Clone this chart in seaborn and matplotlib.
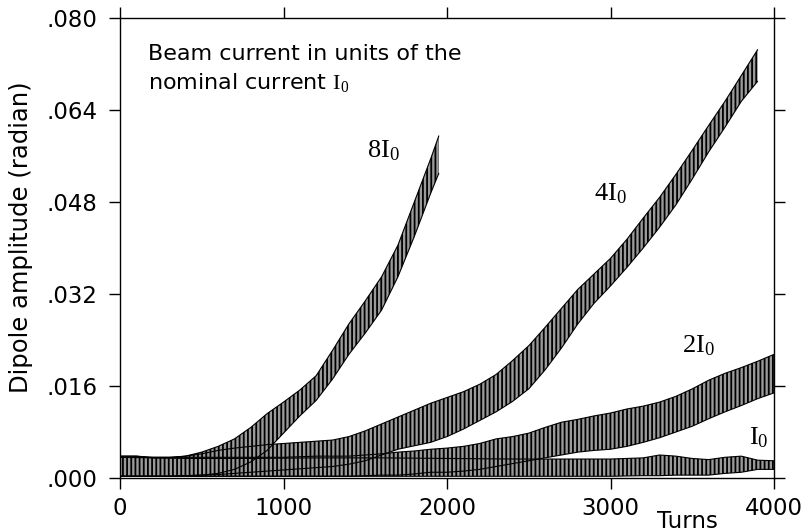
import numpy as np
import pandas as pd
import seaborn as sns
import matplotlib
matplotlib.use("Agg")
import matplotlib.pyplot as plt

# ---------------- data (envelopes of the oscillating signals) -------------
turns_8 = [0, 100, 200, 300, 400, 500, 600, 700, 800, 900, 1000, 1100, 1200, 1300,
           1400, 1500, 1600, 1700, 1800, 1900, 1950]
lo_8 = [.0003, .0003, .0003, .0003, .0004, .0005, .0008, .0015, .0028, .0048, .0078,
        .0108, .0135, .0172, .0215, .0252, .0292, .0350, .0420, .0495, .0530]
hi_8 = [.0038, .0038, .0035, .0035, .0038, .0045, .0055, .0068, .0088, .0112, .0132,
        .0153, .0178, .0222, .0268, .0308, .0350, .0405, .0480, .0555, .0595]

turns_4 = [0, 100, 200, 300, 400, 500, 600, 700, 800, 900, 1000, 1100, 1200, 1300,
           1400, 1500, 1600, 1700, 1800, 1900, 2000, 2100, 2200, 2300, 2400, 2500,
           2600, 2700, 2800, 2900, 3000, 3100, 3200, 3300, 3400, 3500, 3600, 3700,
           3800, 3900]
lo_4 = [.0003, .0003, .0003, .0003, .0004, .0005, .0006, .0008, .0010, .0012, .0014,
        .0016, .0018, .0020, .0024, .0030, .0040, .0050, .0056, .0062, .0072, .0085,
        .0100, .0115, .0133, .0155, .0188, .0226, .0268, .0304, .0334, .0366, .0400,
        .0436, .0475, .0520, .0567, .0610, .0655, .0690]
hi_4 = [.0038, .0038, .0036, .0036, .0038, .0042, .0048, .0052, .0055, .0058, .0060,
        .0062, .0064, .0066, .0072, .0082, .0094, .0106, .0118, .0130, .0140, .0150,
        .0163, .0180, .0204, .0230, .0262, .0295, .0328, .0355, .0382, .0415, .0452,
        .0488, .0528, .0570, .0613, .0655, .0700, .0745]

turns_2 = [0, 200, 400, 600, 800, 1000, 1200, 1400, 1500, 1600, 1700, 1800, 1900,
           2000, 2100, 2200, 2300, 2400, 2500, 2600, 2700, 2800, 2900, 3000, 3100,
           3200, 3300, 3400, 3500, 3600, 3700, 3800, 3900, 4000]
lo_2 = [.0003, .0003, .0003, .0003, .0003, .0003, .0003, .0003, .0004, .0005, .0005,
        .0007, .0010, .0010, .0012, .0015, .0020, .0025, .0030, .0035, .0040, .0045,
        .0048, .0050, .0055, .0062, .0070, .0080, .0090, .0103, .0115, .0126, .0138,
        .0148]
hi_2 = [.0036, .0036, .0036, .0036, .0036, .0036, .0038, .0038, .0040, .0042, .0045,
        .0047, .0050, .0052, .0055, .0060, .0068, .0072, .0078, .0088, .0097, .0102,
        .0108, .0113, .0120, .0125, .0132, .0142, .0155, .0170, .0182, .0192, .0203,
        .0215]

turns_1 = [0, 400, 800, 1200, 1600, 2000, 2400, 2800, 3000, 3200, 3300, 3400, 3500,
           3600, 3700, 3800, 3900, 4000]
lo_1 = [.0003, .0003, .0003, .0003, .0003, .0003, .0003, .0003, .0003, .0004, .0004,
        .0005, .0005, .0005, .0008, .0010, .0015, .0015]
hi_1 = [.0036, .0034, .0034, .0035, .0035, .0034, .0033, .0033, .0033, .0035, .0040,
        .0038, .0034, .0032, .0036, .0038, .0031, .0030]

series_names = ["8I", "4I", "2I", "I"]
label_texts = [r"$8\mathrm{I}_0$", r"$4\mathrm{I}_0$", r"$2\mathrm{I}_0$", r"$\mathrm{I}_0$"]
label_turns = [1510, 2900, 3440, 3850]
label_vals = [.0557, .0482, .0218, .0058]

yticks = [0.0, 0.016, 0.032, 0.048, 0.064, 0.080]
ytick_labels = [".000", ".016", ".032", ".048", ".064", ".080"]
xticks = [0, 1000, 2000, 3000, 4000]
xtick_labels = ["0", "1000", "2000", "3000", "4000"]

# ---------------- styling -------------
sns.set_theme(style="ticks")
plt.rcParams["font.family"] = ["DejaVu Sans"]
plt.rcParams["mathtext.fontset"] = "custom"
plt.rcParams["mathtext.rm"] = "Liberation Serif"
plt.rcParams["mathtext.it"] = "Liberation Serif:italic"
plt.rcParams["hatch.linewidth"] = 1.3
plt.rcParams["axes.edgecolor"] = "black"
plt.rcParams["axes.linewidth"] = 1.0
plt.rcParams["text.color"] = "black"
plt.rcParams["axes.labelcolor"] = "black"
plt.rcParams["xtick.color"] = "black"
plt.rcParams["ytick.color"] = "black"

fig = plt.figure(figsize=(8.08, 5.32), dpi=100)
ax = fig.add_axes([120 / 808, 1 - 478 / 532, 654 / 808, 460 / 532])

frames = []
for name, t, lo, hi in [("8I", turns_8, lo_8, hi_8), ("4I", turns_4, lo_4, hi_4),
                        ("2I", turns_2, lo_2, hi_2), ("I", turns_1, lo_1, hi_1)]:
    frames.append(pd.DataFrame({"turns": t, "lo": lo, "hi": hi, "series": name}))
df = pd.concat(frames, ignore_index=True)

for name in series_names:
    d = df[df["series"] == name]
    ax.fill_between(d["turns"], d["lo"], d["hi"], facecolor="#9a9a9a",
                    edgecolor="black", hatch="||||", linewidth=0, zorder=2)
    sns.lineplot(data=d, x="turns", y="lo", ax=ax, color="black", linewidth=0.8,
                 zorder=3, legend=False)
    sns.lineplot(data=d, x="turns", y="hi", ax=ax, color="black", linewidth=0.8,
                 zorder=3, legend=False)

for txt, tx, ty in zip(label_texts, label_turns, label_vals):
    ax.text(tx, ty, txt, fontsize=19, ha="left", va="baseline", color="black")

ax.text(0.043, 0.908, "Beam current in units of the", transform=ax.transAxes,
        fontsize=16, ha="left", va="baseline")
ax.text(0.043, 0.845, r"nominal current $\mathrm{I}_0$", transform=ax.transAxes,
        fontsize=16, ha="left", va="baseline")

ax.set_xlim(0, 4000)
ax.set_ylim(0, 0.080)
ax.set_xticks(xticks, xtick_labels)
ax.set_yticks(yticks, ytick_labels)
ax.tick_params(axis="both", which="major", direction="out", length=8, width=1,
               labelsize=16.5, top=True, right=True, color="black", pad=6)
ax.tick_params(axis="y", pad=8)

ax.set_ylabel("Dipole amplitude (radian)", fontsize=17.5)
ax.yaxis.set_label_coords(-0.133, 0.523)
ax.set_xlabel("Turns", fontsize=16.5)
ax.xaxis.set_label_coords(0.868, -0.07)
for s in ax.spines.values():
    s.set_visible(True)
    s.set_color("black")

fig.savefig("out.png", dpi=100)
